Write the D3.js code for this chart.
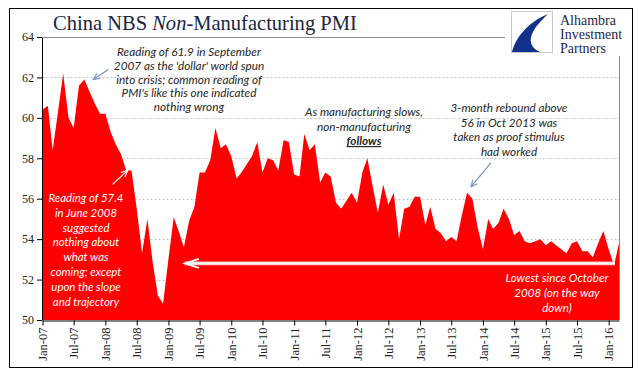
<!DOCTYPE html>
<html><head><meta charset="utf-8">
<script src="https://cdn.jsdelivr.net/npm/d3@7"></script>
<style>body{margin:0;background:#fff}svg{display:block}</style>
</head><body><svg id="c" width="640" height="378"></svg>
<script>
// ---- data (China NBS Non-Manufacturing PMI, monthly, Jan-2007 .. Mar-2016) ----
const startMonth = "2007-01";
const pmi2007 = [60.4, 60.6, 58.4, 60.3, 62.2, 60.0, 59.5, 61.6, 61.9, 61.3, 60.7, 60.2];
const pmi2008 = [60.2, 59.3, 58.7, 58.2, 57.4, 57.4, 55.5, 53.3, 55.0, 52.9, 51.2, 50.8];
const pmi2009 = [53.0, 55.1, 54.4, 53.6, 54.9, 55.6, 57.3, 57.3, 57.9, 59.5, 58.5, 58.7];
const pmi2010 = [58.1, 57.0, 57.3, 57.7, 58.1, 58.8, 57.3, 58.0, 57.9, 57.4, 58.9, 58.8];
const pmi2011 = [57.2, 57.1, 59.2, 58.4, 58.7, 56.8, 57.3, 57.1, 55.8, 55.5, 55.9, 56.3];
const pmi2012 = [55.8, 57.3, 58.0, 56.6, 55.3, 56.7, 55.7, 56.3, 54.0, 55.5, 55.6, 56.1];
const pmi2013 = [56.1, 54.7, 55.6, 54.5, 54.3, 53.9, 54.1, 53.9, 55.2, 56.3, 56.0, 54.6];
const pmi2014 = [53.5, 55.0, 54.5, 54.8, 55.5, 55.0, 54.2, 54.4, 53.9, 53.8, 53.9, 54.0];
const pmi2015 = [53.7, 53.9, 53.7, 53.5, 53.3, 53.8, 53.9, 53.4, 53.4, 53.1, 53.8, 54.4];
const pmi2016 = [53.5, 52.7, 53.8];

const xTickLabels = ["Jan-07","Jul-07","Jan-08","Jul-08","Jan-09","Jul-09","Jan-10","Jul-10",
  "Jan-11","Jul-11","Jan-12","Jul-12","Jan-13","Jul-13","Jan-14","Jul-14","Jan-15","Jul-15","Jan-16"];
const yTicks = [50, 52, 54, 56, 58, 60, 62, 64];
const lowestLevel = 52.8;

const titleParts = [["China NBS ", false], ["Non", true], ["-Manufacturing PMI", false]];
const logoLines = ["Alhambra", "Investment", "Partners"];
const notePeak = ["Reading of 61.9 in September", "2007 as the 'dollar' world spun",
  "into crisis; common reading of", "PMI's like this one indicated", "nothing wrong"];
const noteJune = ["Reading of 57.4", "in June 2008", "suggested", "nothing about",
  "what was", "coming; except", "upon the slope", "and trajectory"];
const noteSlow = ["As manufacturing slows,", "non-manufacturing", "follows"];
const noteRebound = ["3-month rebound above", "56 in Oct 2013 was", "taken as proof stimulus", "had worked"];
const noteLowest = ["Lowest since October", "2008 (on the way", "down)"];

// ---- build ----
const svg = d3.select("#c");
const parse = d3.timeParse("%Y-%m");
const tickParse = d3.timeParse("%b-%y");
const start = parse(startMonth);
const values = [].concat(pmi2007, pmi2008, pmi2009, pmi2010, pmi2011, pmi2012, pmi2013, pmi2014, pmi2015, pmi2016);
const data = values.map((v, i) => ({date: d3.timeMonth.offset(start, i), v}));
const byMonth = (yy, mm) => new Date(yy, mm - 1, 1);

const M = {l: 42.5, r: 619, t: 37, b: 320};
const x = d3.scaleTime().domain(d3.extent(data, d => d.date)).range([M.l, M.r]);
const y = d3.scaleLinear().domain([50, 64]).range([M.b, M.t]);

svg.append("rect").attr("width", 640).attr("height", 378).attr("fill", "#fff");
// outer frame
svg.append("rect").attr("x", 9.5).attr("y", 8.5).attr("width", 623).attr("height", 359)
  .attr("fill", "none").attr("stroke", "#000").attr("stroke-width", 1);

// gridlines
const grid = svg.append("g");
yTicks.filter(t => t > 50).forEach(t => {
  grid.append("line").attr("x1", M.l).attr("x2", M.r).attr("y1", Math.round(y(t)) + 0.5).attr("y2", Math.round(y(t)) + 0.5)
    .attr("stroke", t === 64 ? "#8a8a8a" : "#c4c4c4")
    .attr("stroke-dasharray", t === 64 ? null : "2,2").attr("stroke-width", 1);
});
// right border of plot
svg.append("line").attr("x1", M.r + 0.5).attr("x2", M.r + 0.5).attr("y1", y(64)).attr("y2", y(50))
  .attr("stroke", "#8a8a8a");

// area
const area = d3.area().x(d => x(d.date)).y0(y(50)).y1(d => y(d.v));
svg.append("path").datum(data).attr("d", area).attr("fill", "#ff0000");

// axes
const yAxis = svg.append("g").attr("transform", `translate(${M.l - 0.5},0)`)
  .call(d3.axisLeft(y).tickValues(yTicks).tickSize(5).tickSizeOuter(0).tickFormat(d3.format("d")));
yAxis.selectAll("text").attr("font-family", "Liberation Serif").attr("font-size", 12).attr("fill", "#222");
yAxis.selectAll("line,path").attr("stroke", "#000");

const xAxis = svg.append("g").attr("transform", `translate(0,${M.b + 0.5})`)
  .call(d3.axisBottom(x).tickValues(xTickLabels.map(tickParse)).tickSize(5).tickSizeOuter(0)
    .tickFormat(d3.timeFormat("%b-%y")));
xAxis.selectAll("line,path").attr("stroke", "#000");
xAxis.selectAll("text").attr("font-family", "Liberation Serif").attr("font-size", 12.5).attr("fill", "#222")
  .attr("transform", "rotate(-90)").attr("text-anchor", "end").attr("x", -7).attr("y", 0).attr("dy", "0.33em");

// lowest-level arrow line
const ly = y(lowestLevel);
const lx1 = x(byMonth(2009, 4)) + 1, lx2 = x(byMonth(2016, 2)) + 1;
svg.append("line").attr("x1", lx1).attr("x2", lx2).attr("y1", ly).attr("y2", ly)
  .attr("stroke", "#ffc4c4").attr("stroke-width", 3.6);
svg.append("line").attr("x1", lx1).attr("x2", lx2).attr("y1", ly).attr("y2", ly)
  .attr("stroke", "#fff").attr("stroke-width", 1.8);
svg.append("path").attr("d", `M${lx1 + 14},${ly - 4.5} L${lx1},${ly} L${lx1 + 14},${ly + 4.5}`)
  .attr("fill", "none").attr("stroke", "#fff").attr("stroke-width", 1.8);

function arrow(x1, y1, x2, y2, color, w) {
  const a = Math.atan2(y2 - y1, x2 - x1), L = 7, s = 0.45;
  svg.append("line").attr("x1", x1).attr("y1", y1).attr("x2", x2).attr("y2", y2)
    .attr("stroke", color).attr("stroke-width", w);
  svg.append("path").attr("d",
    `M${x2 - L * Math.cos(a - s)},${y2 - L * Math.sin(a - s)} L${x2},${y2} L${x2 - L * Math.cos(a + s)},${y2 - L * Math.sin(a + s)}`)
    .attr("fill", "none").attr("stroke", color).attr("stroke-width", w);
}
const blue = "#7893c0";
{ const tx = x(byMonth(2007, 9)) + 9, ty = y(61.9); arrow(tx + 15, ty - 10, tx, ty, blue, 1.2); }
{ const tx = x(byMonth(2008, 6)) - 4, ty = y(57.4); arrow(tx - 15, ty + 14, tx, ty, "#fff", 1.2); }
{ const tx = x(byMonth(2013, 10)) + 4, ty = y(56.3) - 6; arrow(tx + 20, ty - 24, tx, ty, blue, 1.2); }

// annotations
function note(lines, cx, y0, dy, refW, color, boldLast) {
  const g = svg.append("g");
  const t = g.selectAll("text").data(lines).join("text")
    .attr("x", cx).attr("y", (d, i) => y0 + i * dy).attr("text-anchor", "middle")
    .attr("font-family", "Lato, 'Open Sans', sans-serif").attr("font-style", "italic")
    .attr("font-size", 11).attr("fill", color).text(d => d);
  const w = t.nodes()[0].getComputedTextLength();
  t.attr("font-size", 11 * refW / w);
  if (boldLast) {
    t.filter((d, i) => i === lines.length - 1).attr("font-weight", "bold").attr("text-decoration", "underline");
  }
}
note(notePeak, 189, 56, 13.8, 144, "#262626");
note(noteJune, 86, 202, 14.8, 75, "#fff");
note(noteSlow, 364, 116, 14.5, 118, "#262626", true);
note(noteRebound, 509, 112, 14.7, 117, "#262626");
note(noteLowest, 557, 282, 15, 103, "#fff");

// logo
svg.append("rect").attr("x", 505).attr("y", 9).attr("width", 127).attr("height", 47).attr("fill", "#fff");
svg.append("rect").attr("x", 511.5).attr("y", 11.5).attr("width", 41).attr("height", 41)
  .attr("fill", "#fff").attr("stroke", "#c8c8c8");
svg.append("path").attr("d", "M548,14 C530,21 516,36 512,52 L540,52 C527,46 526,34 548,14 Z").attr("fill", "#13308a");
const logo = svg.append("g");
const logoT = logo.selectAll("text").data(logoLines).join("text")
  .attr("x", 560).attr("y", (d, i) => 25 + i * 14).attr("font-family", "Liberation Serif")
  .attr("font-size", 14).attr("fill", "#1c2748").text(d => d);
{ const w = logoT.nodes()[1].getComputedTextLength(); logoT.attr("font-size", Math.min(14, 14 * 66 / w)); }

// title
const title = svg.append("text").attr("x", 53).attr("y", 30).attr("font-family", "Liberation Serif")
  .attr("font-size", 20).attr("fill", "#1c2540");
title.selectAll("tspan").data(titleParts).join("tspan").attr("font-style", d => d[1] ? "italic" : "normal").text(d => d[0]);
{ const w = title.node().getComputedTextLength(); title.attr("font-size", 20 * 304 / w); }
</script></body></html>
